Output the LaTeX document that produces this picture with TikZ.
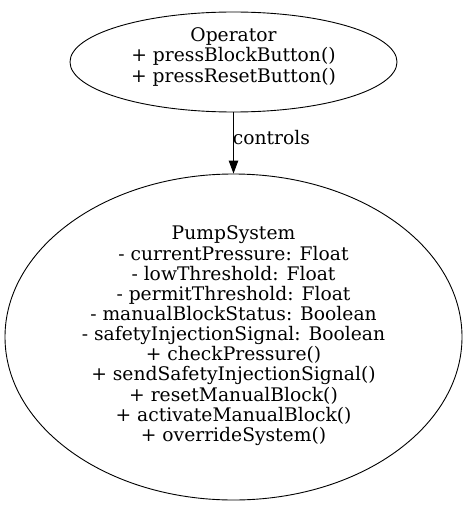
\documentclass[tikz,border=0pt]{standalone}
\usepackage{fontspec}
\setmainfont{DejaVu Serif}
\usetikzlibrary{arrows.meta,shapes.geometric}
\newcommand{\txtblock}[3]{\raisebox{#1}[0pt][0pt]{\makebox[0pt]{\fontsize{18.7}{#2}\selectfont\begin{tabular}{@{}c@{}}#3\end{tabular}}}}
\begin{document}
\begin{tikzpicture}[x=1pt,y=-1pt,
  lbl/.style={font=\fontsize{18.7}{20}\selectfont,inner sep=0pt},
  oval/.style={draw,ellipse,line width=0.9pt,inner sep=0pt},
  conn/.style={-{Triangle[length=13pt,width=9.5pt]},line width=0.9pt}]
\useasboundingbox (0,0) rectangle (467,505);
\node[oval,minimum width=327pt,minimum height=100pt] (op) at (233.5,62) {\txtblock{0pt}{20.5}{Operator\\+ pressBlockButton()\\+ pressResetButton()}};
\node[oval,minimum width=457pt,minimum height=326pt] (ps) at (233.5,337) {\txtblock{-4pt}{19.75}{PumpSystem\\- currentPressure: Float\\- lowThreshold: Float\\- permitThreshold: Float\\- manualBlockStatus: Boolean\\- safetyInjectionSignal: Boolean\\+ checkPressure()\\+ sendSafetyInjectionSignal()\\+ resetManualBlock()\\+ activateManualBlock()\\+ overrideSystem()}};
\draw[conn] (op) -- node[right,lbl,yshift=5.5pt,xshift=-1pt] (cl) {controls} (ps);
\end{tikzpicture}
\end{document}
